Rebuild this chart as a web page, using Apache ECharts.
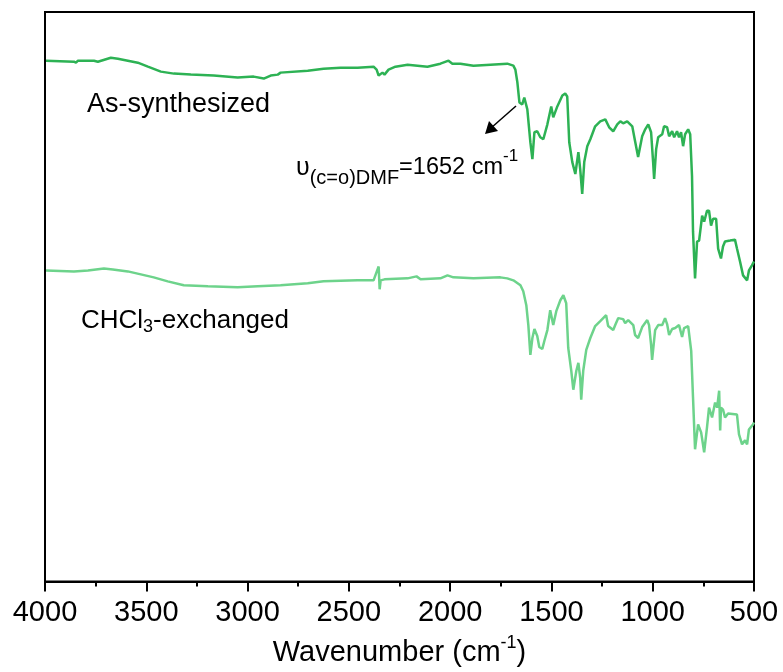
<!DOCTYPE html>
<html>
<head>
<meta charset="utf-8">
<script src="https://cdn.jsdelivr.net/npm/echarts@6/dist/echarts.min.js"></script>
<style>
html,body{margin:0;padding:0;background:#fff;}
#chart{width:783px;height:672px;}
</style>
</head>
<body>
<div id="chart"></div>
<script>
// Tick labels of the wavenumber axis
var xTicks = [4000, 3500, 3000, 2500, 2000, 1500, 1000, 500];

// As-synthesized spectrum (wavenumber, transmittance a.u.)
var asSynWn = [3995,3857,3847,3837,3758,3739,3675,3640,3542,3492,3428,3364,3280,3167,3049,2970,2920,2886,2851,2837,2703,2625,2541,2457,2378,2363,2353,2334,2324,2304,2270,2210,2112,2048,2008,1989,1949,1885,1801,1718,1688,1678,1668,1658,1644,1634,1619,1604,1594,1584,1570,1555,1540,1520,1501,1491,1471,1446,1432,1422,1412,1397,1382,1367,1358,1348,1338,1323,1308,1284,1259,1234,1225,1215,1195,1175,1160,1146,1126,1101,1087,1072,1052,1037,1022,1008,998,993,983,973,953,944,929,919,904,894,880,870,860,850,840,825,815,806,801,791,781,771,756,746,732,722,712,702,687,677,663,653,643,618,594,584,569,554,534,525,510,500];
var asSynT = [519,518,517,519,519,518,522,521,517,513,508,506,505,504,502,503,501,504,505,507,509,511,512,512,513,510,504,507,505,510,513,515,513,516,519,516,516,514,515,516,514,510,497,477,475,482,470,437,420,447,448,442,440,455,473,462,473,484,486,483,437,417,405,427,410,385,417,433,440,453,458,460,462,452,448,455,458,456,458,453,438,422,443,450,455,447,417,400,430,442,445,453,452,443,448,442,448,442,447,433,445,450,445,403,347,300,337,338,363,357,368,368,353,360,360,330,320,332,337,338,339,330,317,303,298,308,313,317];

// CHCl3-exchanged spectrum (wavenumber, transmittance a.u.)
var chclWn = [3995,3857,3788,3709,3665,3591,3527,3463,3394,3315,3196,3049,2950,2837,2703,2625,2457,2378,2353,2348,2343,2324,2210,2166,2146,2048,2013,1984,1885,1752,1718,1688,1653,1639,1624,1614,1604,1594,1584,1570,1560,1545,1535,1520,1506,1491,1476,1456,1441,1427,1417,1402,1392,1377,1367,1358,1353,1343,1328,1308,1284,1259,1230,1220,1195,1185,1170,1146,1136,1121,1096,1087,1072,1052,1027,1018,1008,1003,988,973,953,939,929,919,904,889,870,855,845,825,810,801,791,776,761,746,732,722,707,692,682,672,667,663,653,643,628,584,574,559,544,534,525,505,500];
var chclT = [308,307,308,310,309,307,304,301,297,293,292,291,292,293,295,297,298,298,312,289,298,299,300,302,299,300,303,301,300,301,300,298,293,287,273,253,223,240,249,242,231,229,237,248,268,253,267,278,283,275,230,207,188,207,215,200,178,207,228,240,252,257,263,252,248,253,260,259,255,258,253,243,240,251,258,253,233,218,248,253,253,260,254,243,249,250,253,241,250,252,227,180,128,153,145,125,150,170,160,175,170,187,147,170,168,160,164,163,143,133,137,133,148,153,155];

function pairs(xs, ys) {
  var out = [];
  var n = Math.min(xs.length, ys.length);
  for (var i = 0; i < n; i++) out.push([xs[i], ys[i]]);
  return out;
}

var FONT = '"Liberation Sans", Arial, sans-serif';
var chart = echarts.init(document.getElementById('chart'), null, {renderer: 'canvas'});

var option = {
  backgroundColor: '#ffffff',
  animation: false,
  grid: {
    left: 45, right: 29, top: 12, bottom: 87,
    show: true, borderColor: '#000', borderWidth: 2, backgroundColor: 'transparent'
  },
  xAxis: {
    type: 'value',
    inverse: true,
    min: 500, max: 4000, interval: 500,
    axisLine: {show: true, onZero: false, lineStyle: {color: '#000', width: 2}},
    axisTick: {show: true, inside: false, length: 10, lineStyle: {color: '#000', width: 2}},
    minorTick: {show: true, splitNumber: 2, length: 5, lineStyle: {color: '#000', width: 2}},
    splitLine: {show: false},
    axisLabel: {
      margin: 17, fontSize: 29, color: '#000', fontFamily: FONT,
      formatter: function (v) { return xTicks.indexOf(v) >= 0 ? String(v) : ''; }
    },
    name: '{a|Wavenumber (cm}{s|-1}{a|)}',
    nameLocation: 'middle',
    nameGap: 53,
    nameTextStyle: {
      color: '#000', fontFamily: FONT, fontSize: 29,
      rich: {
        a: {fontSize: 29, fontFamily: FONT, color: '#000', lineHeight: 36},
        s: {fontSize: 18, fontFamily: FONT, color: '#000', lineHeight: 20, verticalAlign: 'top'}
      }
    }
  },
  yAxis: {
    type: 'value',
    min: -5, max: 568,
    axisLine: {show: false},
    axisTick: {show: false},
    axisLabel: {show: false},
    splitLine: {show: false}
  },
  series: [
    {
      name: 'As-synthesized',
      type: 'line',
      data: pairs(asSynWn, asSynT),
      showSymbol: false,
      symbol: 'none',
      lineStyle: {color: '#2db254', width: 2.5},
      z: 3
    },
    {
      name: 'CHCl3-exchanged',
      type: 'line',
      data: pairs(chclWn, chclT),
      showSymbol: false,
      symbol: 'none',
      lineStyle: {color: '#6dd38b', width: 2.5},
      z: 2
    }
  ],
  graphic: [
    {
      type: 'text', left: 87, top: 91, z: 10,
      style: {text: 'As-synthesized', fontSize: 27, fontFamily: FONT, fill: '#000'}
    },
    {
      type: 'text', x: 81, y: 321, z: 10,
      style: {
        text: '{m|CHCl}{b|3}{m|-exchanged}',
        verticalAlign: 'middle',
        fontFamily: FONT, fill: '#000',
        rich: {
          m: {fontSize: 26, fontFamily: FONT, fill: '#000', lineHeight: 30},
          b: {fontSize: 18, fontFamily: FONT, fill: '#000', lineHeight: 17, verticalAlign: 'bottom'}
        }
      }
    },
    {
      type: 'text', x: 296, y: 168, z: 10,
      style: {
        text: '{u|\u03C5}{b|(c=o)DMF}{m|=1652 cm}{p|-1}',
        verticalAlign: 'middle',
        fontFamily: FONT, fill: '#000',
        rich: {
          u: {fontSize: 25, fontFamily: FONT, fill: '#000', lineHeight: 40},
          m: {fontSize: 23.5, fontFamily: FONT, fill: '#000', lineHeight: 40},
          b: {fontSize: 20, fontFamily: FONT, fill: '#000', lineHeight: 20, verticalAlign: 'bottom'},
          p: {fontSize: 17, fontFamily: FONT, fill: '#000', lineHeight: 32, verticalAlign: 'top'}
        }
      }
    },
    {
      type: 'line', z: 10,
      shape: {x1: 516, y1: 106, x2: 491, y2: 128},
      style: {stroke: '#000', lineWidth: 1.5}
    },
    {
      type: 'polygon', z: 10,
      shape: {points: [[485, 134], [489, 121], [498, 131]]},
      style: {fill: '#000'}
    }
  ]
};
chart.setOption(option);
</script>
</body>
</html>
